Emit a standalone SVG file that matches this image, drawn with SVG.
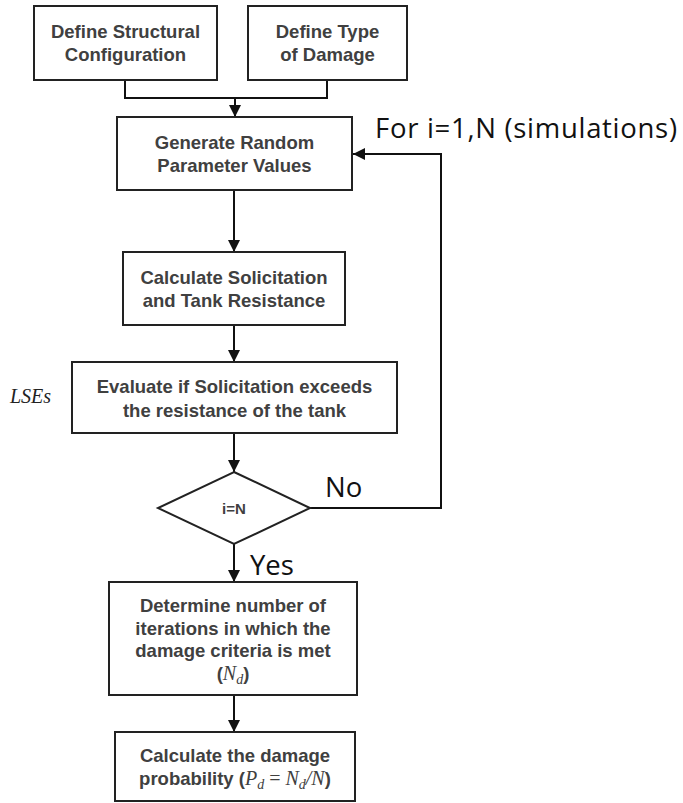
<svg xmlns="http://www.w3.org/2000/svg" width="683" height="803" viewBox="0 0 683 803">
<style>
.box{fill:#fff;stroke:#222;stroke-width:2}
.lbl{font-family:"Liberation Sans",Arial,sans-serif;font-weight:bold;font-size:18.5px;fill:#404040;text-anchor:middle}
.m{font-family:"Liberation Serif","DejaVu Serif",serif;font-style:italic;font-weight:normal;font-size:20px}
.mr{font-family:"Liberation Serif","DejaVu Serif",serif;font-weight:normal;font-size:20px}
.sub{font-family:"Liberation Serif","DejaVu Serif",serif;font-style:italic;font-weight:normal;font-size:14px}
.ann{font-family:"Open Sans","Noto Sans",sans-serif;font-size:27.5px;fill:#111}
.con{fill:none;stroke:#111;stroke-width:2}
</style>
<defs>
<marker id="ah" viewBox="0 0 10 10" refX="10" refY="5" markerWidth="6" markerHeight="6" orient="auto" markerUnits="strokeWidth">
<path d="M0,0 L10,5 L0,10 z" fill="#111"/>
</marker>
</defs>
<rect width="683" height="803" fill="#fff"/>
<g id="connectors">
<path class="con" d="M125,80 V98 H327 V80"/>
<path class="con" d="M235,98 V117" marker-end="url(#ah)"/>
<path class="con" d="M234,190 V252" marker-end="url(#ah)"/>
<path class="con" d="M234,325 V362" marker-end="url(#ah)"/>
<path class="con" d="M234,433 V472" marker-end="url(#ah)"/>
<path class="con" d="M234,544 V582" marker-end="url(#ah)"/>
<path class="con" d="M234,695 V732" marker-end="url(#ah)"/>
<path class="con" d="M310,508 H441 V154 H353" marker-end="url(#ah)"/>
</g>
<g id="define-structural">
<rect class="box" x="34" y="6" width="183" height="74"/>
<text class="lbl" x="125.5" y="38">Define Structural</text>
<text class="lbl" x="125.5" y="61">Configuration</text>
</g>
<g id="define-damage">
<rect class="box" x="248" y="6" width="159" height="74"/>
<text class="lbl" x="327.5" y="38">Define Type</text>
<text class="lbl" x="327.5" y="61">of Damage</text>
</g>
<g id="generate">
<rect class="box" x="117" y="117" width="235" height="73"/>
<text class="lbl" x="234.5" y="149">Generate Random</text>
<text class="lbl" x="234.5" y="172">Parameter Values</text>
</g>
<text class="ann" x="375" y="138" textLength="302" lengthAdjust="spacing">For i=1,N (simulations)</text>
<g id="calculate">
<rect class="box" x="123" y="252" width="222" height="73"/>
<text class="lbl" x="234" y="284">Calculate Solicitation</text>
<text class="lbl" x="234" y="307">and Tank Resistance</text>
</g>
<g id="evaluate">
<rect class="box" x="72" y="362" width="325" height="71"/>
<text class="lbl" x="234.5" y="393">Evaluate if Solicitation exceeds</text>
<text class="lbl" x="234.5" y="417">the resistance of the tank</text>
</g>
<text x="10" y="403" font-family="'Liberation Serif','DejaVu Serif',serif" font-style="italic" font-size="20" fill="#222">LSEs</text>
<g id="decision">
<polygon class="box" points="234,472 310,508 234,544 158,508"/>
<text class="lbl" x="234" y="514" style="font-size:15px">i=N</text>
</g>
<text class="ann" x="325" y="497">No</text>
<text class="ann" x="250" y="575">Yes</text>
<g id="determine">
<rect class="box" x="109" y="582" width="248" height="113"/>
<text class="lbl" x="233" y="612">Determine number of</text>
<text class="lbl" x="233" y="635">iterations in which the</text>
<text class="lbl" x="233" y="657">damage criteria is met</text>
<text class="lbl" x="233" y="680">(<tspan class="m">N</tspan><tspan class="sub" dy="4">d</tspan><tspan dy="-4">)</tspan></text>
</g>
<g id="probability">
<rect class="box" x="115" y="732" width="240" height="69"/>
<text class="lbl" x="235" y="762">Calculate the damage</text>
<text class="lbl" x="235" y="785">probability (<tspan class="m">P</tspan><tspan class="sub" dy="4">d</tspan><tspan class="mr" dy="-4"> = </tspan><tspan class="m">N</tspan><tspan class="sub" dy="4">d</tspan><tspan class="m" dy="-4">/N</tspan>)</text>
</g>
</svg>
